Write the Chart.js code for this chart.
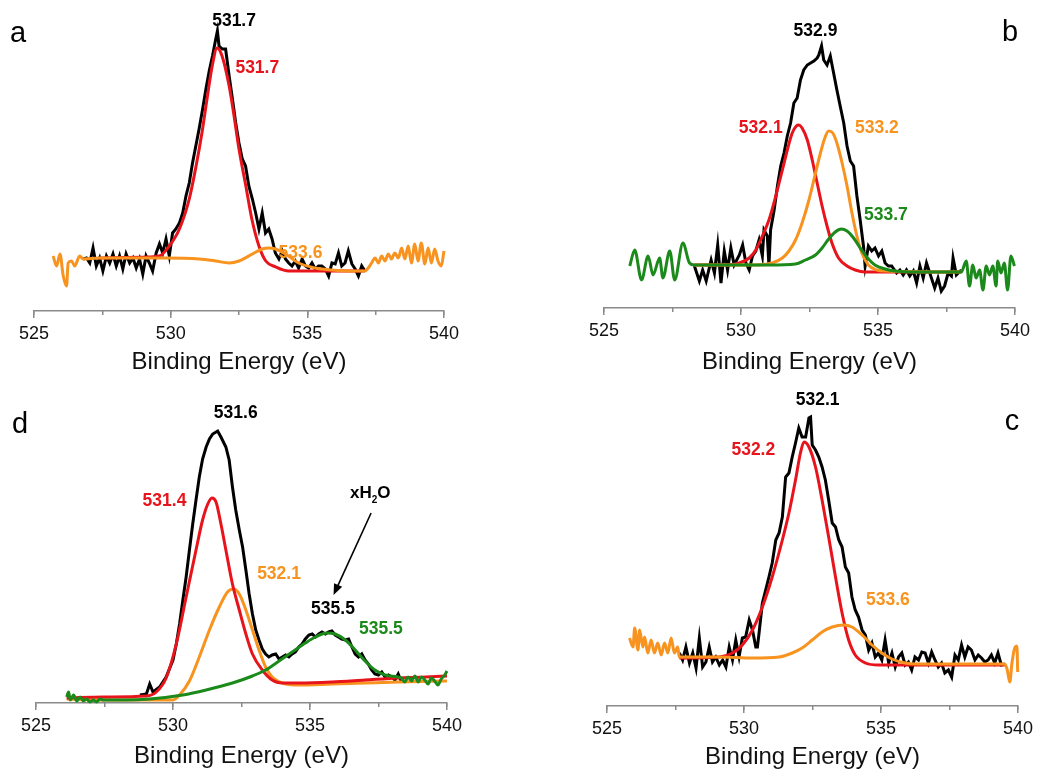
<!DOCTYPE html>
<html>
<head>
<meta charset="utf-8">
<title>O 1s XPS</title>
<script src="https://cdn.jsdelivr.net/npm/chart.js@4.4.1/dist/chart.umd.min.js"></script>
<style>
  html, body { margin: 0; padding: 0; background: #fff; width: 1038px; height: 773px; overflow: hidden; }
  canvas { position: absolute; }
</style>
</head>
<body>
<canvas id="panel-a"></canvas>
<canvas id="panel-b"></canvas>
<canvas id="panel-d"></canvas>
<canvas id="panel-c"></canvas>
<script>
// x axis: binding energy (eV), y: intensity (arb. units)
const xTicks = [525, 530, 535, 540];
const axisTitle = 'Binding Energy (eV)';

// ---- panel a ----
const aData = [[526.80,52],[526.92,53],[527.04,48],[527.16,63],[527.28,45],[527.40,53],[527.52,40],[527.65,55],[527.77,48],[527.89,57],[528.01,45],[528.13,55],[528.25,42],[528.37,57],[528.50,48],[528.62,53],[528.74,43],[528.86,52],[528.98,37],[529.10,55],[529.22,48],[529.34,40],[529.47,58],[529.59,67],[529.71,58],[529.83,72],[529.95,55],[530.07,78],[530.19,82],[530.32,88],[530.44,98],[530.56,115],[530.68,128],[530.80,148],[530.92,165],[531.04,182],[531.17,202],[531.29,222],[531.41,240],[531.53,255],[531.65,272],[531.71,280],[531.77,265],[531.89,262],[532.01,262],[532.14,235],[532.26,212],[532.38,188],[532.50,168],[532.62,152],[532.74,145],[532.86,125],[532.99,112],[533.11,98],[533.23,82],[533.35,98],[533.47,78],[533.59,82],[533.71,72],[533.83,58],[533.96,52],[534.08,60],[534.20,52],[534.32,48],[534.44,45],[534.56,50],[534.68,43],[534.81,52],[534.93,45],[535.05,43],[535.17,48],[535.29,42],[535.41,45],[535.53,45],[535.66,42],[535.78,35],[535.90,48],[536.02,47],[536.14,58],[536.26,45],[536.38,48],[536.50,60],[536.63,47],[536.75,42],[536.87,35],[536.99,45],[537.11,40]];
const aFit1 = [[527.40,53],[529.22,54],[529.59,55],[529.95,65],[530.32,82],[530.68,112],[530.93,145],[531.15,179],[531.33,212],[531.52,245],[531.70,263],[531.88,255],[532.14,225],[532.32,195],[532.50,162],[532.75,125],[532.97,92],[533.23,65],[533.48,50],[533.85,44],[534.32,40],[534.94,40],[537.10,40]];
const aFit2 = [[525.70,55],[525.83,45],[525.95,57],[526.07,35],[526.19,25],[526.25,48],[526.37,50],[526.49,45],[526.67,55],[526.80,52],[527.40,53],[528.62,53],[529.83,53],[531.04,52],[531.65,50],[532.14,48],[532.50,50],[532.99,57],[533.35,62],[533.59,63],[533.83,62],[534.20,57],[534.68,48],[535.29,43],[535.90,41],[536.50,40],[537.11,40],[537.23,43],[537.35,48],[537.48,53],[537.60,48],[537.72,55],[537.84,50],[537.96,57],[538.08,52],[538.20,58],[538.33,53],[538.45,63],[538.57,52],[538.69,65],[538.81,48],[538.93,67],[539.05,50],[539.17,68],[539.30,47],[539.42,63],[539.54,48],[539.66,62],[539.78,50],[539.90,45],[540.00,60]];
const aPeaks = ['531.7', '531.7', '533.6'];

// ---- panel b ----
const bData = [[528.30,42],[528.48,27],[528.60,38],[528.73,27],[528.91,48],[529.03,35],[529.15,63],[529.27,25],[529.39,57],[529.51,38],[529.63,60],[529.75,43],[529.94,53],[530.06,63],[530.18,45],[530.30,38],[530.42,52],[530.54,57],[530.66,68],[530.78,52],[530.84,78],[530.96,72],[531.02,42],[531.08,78],[531.21,98],[531.33,122],[531.45,142],[531.57,155],[531.69,172],[531.81,185],[531.93,205],[532.05,210],[532.17,228],[532.29,238],[532.42,243],[532.54,245],[532.66,247],[532.78,250],[532.84,253],[532.94,262],[533.02,248],[533.14,243],[533.26,252],[533.38,235],[533.50,218],[533.62,202],[533.75,185],[533.87,162],[533.99,147],[534.11,142],[534.23,112],[534.35,88],[534.47,62],[534.53,42],[534.65,62],[534.77,57],[534.89,60],[535.02,52],[535.14,57],[535.26,45],[535.38,42],[535.50,42],[535.68,35],[535.80,38],[535.92,33],[536.04,38],[536.16,32],[536.29,37],[536.41,25],[536.53,42],[536.65,30],[536.77,45],[536.89,35],[537.07,20],[537.19,30],[537.31,17],[537.43,22],[537.56,35],[537.68,32],[537.74,50],[537.86,33],[538.04,38]];
const bFit1 = [[528.30,43],[529.45,43],[529.94,45],[530.30,50],[530.54,58],[530.78,72],[531.02,88],[531.27,112],[531.51,138],[531.69,158],[531.87,175],[532.02,182],[532.11,183],[532.23,180],[532.42,168],[532.60,148],[532.78,125],[532.96,102],[533.14,82],[533.32,65],[533.56,50],[533.87,42],[534.17,38],[534.53,36],[535.26,36],[538.04,36]];
const bFit2 = [[528.30,43],[530.42,43],[531.14,45],[531.51,50],[531.75,57],[531.99,68],[532.23,85],[532.48,108],[532.72,135],[532.90,155],[533.06,170],[533.20,177],[533.35,175],[533.50,165],[533.69,145],[533.87,122],[534.05,95],[534.23,72],[534.41,55],[534.65,43],[534.96,38],[535.26,37],[538.04,36]];
const bFit3 = [[525.94,42],[526.12,58],[526.37,28],[526.61,52],[526.79,33],[527.03,50],[527.15,30],[527.40,57],[527.58,28],[527.88,65],[528.12,45],[528.30,43],[528.73,43],[529.81,43],[531.02,43],[531.99,44],[532.35,48],[532.72,53],[532.96,60],[533.20,69],[533.44,76],[533.66,79],[533.87,77],[534.11,70],[534.35,60],[534.59,51],[534.89,43],[535.26,39],[535.62,37],[536.47,36],[538.04,36],[538.22,47],[538.34,22],[538.46,43],[538.58,30],[538.71,38],[538.83,18],[538.95,42],[539.07,33],[539.19,42],[539.31,22],[539.37,47],[539.49,35],[539.61,45],[539.73,18],[539.85,52],[539.98,42]];
const bPeaks = ['532.9', '532.1', '533.2', '533.7'];

// ---- panel d ----
const dData = [[528.79,8],[529.03,9],[529.15,19],[529.27,11],[529.51,16],[529.75,26],[530.00,43],[530.12,59],[530.24,79],[530.36,103],[530.48,126],[530.60,153],[530.72,179],[530.84,203],[530.96,226],[531.08,244],[531.21,256],[531.33,264],[531.45,269],[531.63,272],[531.75,266],[531.93,256],[532.05,243],[532.17,216],[532.29,193],[532.42,173],[532.54,156],[532.66,133],[532.78,109],[532.90,89],[533.02,73],[533.14,63],[533.26,54],[533.38,49],[533.50,46],[533.62,48],[533.75,49],[533.87,44],[533.99,46],[534.11,48],[534.23,46],[534.35,49],[534.47,51],[534.59,56],[534.71,59],[534.83,64],[534.96,68],[535.08,69],[535.20,66],[535.32,69],[535.44,71],[535.56,69],[535.68,71],[535.80,72],[535.92,68],[536.04,66],[536.16,64],[536.29,63],[536.41,64],[536.53,56],[536.65,49],[536.77,46],[536.89,49],[537.01,43],[537.13,39],[537.25,33],[537.37,29],[537.50,28],[537.62,31],[537.74,26],[537.86,28],[537.98,26],[538.10,23],[538.22,29],[538.34,21]];
const dFit1 = [[526.12,5],[527.46,6],[529.03,7],[529.39,11],[529.75,25],[530.12,59],[530.48,106],[530.84,153],[531.08,183],[531.27,199],[531.42,205],[531.57,201],[531.75,179],[531.93,153],[532.17,119],[532.42,93],[532.66,69],[532.90,49],[533.26,33],[533.62,23],[533.99,20],[534.59,20],[535.80,21],[537.01,23],[538.22,25],[540.00,27]];
const dFit2 = [[526.12,4],[527.46,3],[530.00,3],[530.24,8],[530.60,22],[530.96,46],[531.33,73],[531.69,96],[531.99,111],[532.21,114],[532.42,109],[532.66,93],[532.90,73],[533.14,53],[533.38,36],[533.62,26],[533.99,20],[534.59,18],[535.80,19],[537.01,20],[538.22,21],[540.00,22]];
const dFit3 = [[526.12,6],[526.19,11],[526.25,3],[526.37,8],[526.49,2],[526.61,6],[526.73,2],[526.85,4],[526.97,1],[527.09,3],[527.21,1],[527.33,4],[527.46,3],[528.30,3],[529.15,4],[530.36,8],[531.21,13],[532.17,20],[532.90,27],[533.38,33],[533.87,42],[534.35,51],[534.83,60],[535.20,66],[535.62,70],[535.92,69],[536.29,63],[536.65,53],[537.01,42],[537.37,33],[537.74,28],[538.22,26],[538.34,25],[538.46,21],[538.58,26],[538.71,22],[538.83,27],[538.95,21],[539.07,26],[539.19,23],[539.31,19],[539.43,25],[539.55,22],[539.67,18],[539.79,24],[539.92,28],[540.00,32]];
const dPeaks = ['531.6', '531.4', '532.1', '535.5', '535.5'];

// ---- panel c ----
const cData = [[527.64,53],[527.76,46],[527.88,59],[528.01,43],[528.13,53],[528.25,38],[528.37,68],[528.49,39],[528.61,44],[528.73,59],[528.85,44],[528.97,49],[529.10,41],[529.22,46],[529.34,39],[529.46,59],[529.58,46],[529.70,66],[529.82,49],[529.94,68],[530.06,69],[530.19,86],[530.31,76],[530.43,59],[530.49,59],[530.55,73],[530.67,103],[530.79,116],[530.91,129],[531.03,143],[531.16,166],[531.28,173],[531.40,189],[531.52,229],[531.64,233],[531.76,249],[531.88,263],[532.00,278],[532.12,269],[532.25,269],[532.37,288],[532.43,289],[532.49,261],[532.61,256],[532.73,249],[532.85,239],[532.97,226],[533.09,206],[533.22,183],[533.34,179],[533.46,166],[533.58,159],[533.70,139],[533.82,133],[533.94,109],[534.06,96],[534.18,89],[534.31,76],[534.43,71],[534.55,56],[534.67,63],[534.79,49],[534.91,53],[535.03,46],[535.15,66],[535.28,43],[535.40,53],[535.52,39],[535.64,49],[535.76,53],[535.88,41],[536.00,44],[536.12,36],[536.24,49],[536.37,46],[536.49,54],[536.61,53],[536.73,43],[536.85,54],[536.97,46],[537.09,39],[537.21,43],[537.33,33],[537.46,36],[537.58,29],[537.70,51],[537.82,46],[537.94,61],[538.06,49],[538.18,59],[538.30,56],[538.43,46],[538.55,51],[538.67,48],[538.79,44],[538.91,46],[539.03,51],[539.15,43],[539.27,53],[539.39,41],[539.52,42]];
const cFit1 = [[527.64,48],[529.10,49],[529.58,53],[529.94,61],[530.31,76],[530.67,99],[531.03,129],[531.40,166],[531.64,193],[531.88,226],[532.06,253],[532.19,264],[532.37,259],[532.61,239],[532.85,206],[533.09,169],[533.34,129],[533.58,93],[533.82,66],[534.06,51],[534.43,43],[534.91,41],[536.37,41],[539.52,41]];
const cFit2 = [[525.82,68],[525.95,59],[526.01,78],[526.13,56],[526.19,76],[526.31,59],[526.37,69],[526.49,53],[526.61,66],[526.73,53],[526.85,63],[526.98,51],[527.10,63],[527.22,53],[527.34,68],[527.46,53],[527.58,59],[527.64,49],[527.88,49],[529.10,49],[530.31,48],[531.28,49],[531.76,53],[532.12,58],[532.49,66],[532.85,74],[533.22,79],[533.64,81],[533.94,79],[534.31,71],[534.67,61],[535.03,53],[535.40,47],[535.88,43],[536.37,42],[539.52,42],[539.61,36],[539.70,24],[539.78,43],[539.88,58],[539.96,60],[539.99,34]];
const cPeaks = ['532.1', '532.2', '533.6'];

const FONT = '"Liberation Sans", Arial, Helvetica, sans-serif';
const BLACK = '#000000', RED = '#e8141c', ORANGE = '#f7931e', GREEN = '#1b8a1b';
const AXIS_GREY = '#8a8a8a';

function pts(arr) { return arr.map(p => ({ x: p[0], y: p[1] })); }

function series(arr, color, smooth) {
  return {
    data: pts(arr), borderColor: color, borderWidth: 3, pointRadius: 0,
    fill: false, clip: 8, tension: smooth ? 0.4 : 0,
    cubicInterpolationMode: smooth ? 'monotone' : 'default'
  };
}

function drawWater(ctx, xs, ys, n) {
  const cx = xs.getPixelForValue(n.x), cy = ys.getPixelForValue(n.y);
  const big = 'bold 17px ' + FONT, small = 'bold 10px ' + FONT;
  ctx.font = big;
  const w1 = ctx.measureText('xH').width, w3 = ctx.measureText('O').width;
  ctx.font = small;
  const w2 = ctx.measureText('2').width;
  let x = cx - (w1 + w2 + w3) / 2;
  ctx.textAlign = 'left';
  ctx.fillStyle = BLACK;
  ctx.font = big; ctx.fillText('xH', x, cy); x += w1;
  ctx.font = small; ctx.fillText('2', x, cy + 7); x += w2;
  ctx.font = big; ctx.fillText('O', x, cy);

  const x1 = xs.getPixelForValue(n.tail[0]), y1 = ys.getPixelForValue(n.tail[1]);
  const x2 = xs.getPixelForValue(n.head[0]), y2 = ys.getPixelForValue(n.head[1]);
  const a = Math.atan2(y2 - y1, x2 - x1), c = Math.cos(a), s = Math.sin(a);
  ctx.strokeStyle = BLACK; ctx.lineWidth = 1.6;
  ctx.beginPath(); ctx.moveTo(x1, y1); ctx.lineTo(x2 - 6 * c, y2 - 6 * s); ctx.stroke();
  ctx.beginPath();
  ctx.moveTo(x2, y2);
  ctx.lineTo(x2 - 11 * c + 4.5 * s, y2 - 11 * s - 4.5 * c);
  ctx.lineTo(x2 - 11 * c - 4.5 * s, y2 - 11 * s + 4.5 * c);
  ctx.closePath(); ctx.fill();
}

const peakLabels = {
  id: 'peakLabels',
  afterDatasetsDraw(chart, args, opts) {
    const ctx = chart.ctx, xs = chart.scales.x, ys = chart.scales.y;
    ctx.save();
    ctx.textAlign = 'center';
    ctx.textBaseline = 'middle';
    ctx.font = 'bold 17.5px ' + FONT;
    (opts.labels || []).forEach(l => {
      ctx.fillStyle = l.color;
      ctx.fillText(l.text, xs.getPixelForValue(l.x), ys.getPixelForValue(l.y));
    });
    ctx.font = '29px ' + FONT;
    ctx.fillStyle = BLACK;
    ctx.fillText(opts.letter, opts.letterPos[0], opts.letterPos[1]);
    if (opts.water) { ctx.textAlign = 'left'; drawWater(ctx, xs, ys, opts.water); }
    ctx.restore();
  }
};

function makePanel(id, box, datasets, labelOpts) {
  const cv = document.getElementById(id);
  cv.style.left = box.left + 'px';
  cv.style.top = box.top + 'px';
  cv.width = box.width;
  cv.height = box.height;
  return new Chart(cv, {
    type: 'line',
    data: { datasets },
    options: {
      responsive: false, animation: false, devicePixelRatio: 1,
      layout: { padding: { left: 34, right: 18, top: 0, bottom: 0 } },
      plugins: { legend: { display: false }, tooltip: { enabled: false }, peakLabels: labelOpts },
      scales: {
        x: {
          type: 'linear', min: xTicks[0], max: xTicks[xTicks.length - 1],
          afterFit: s => { s.height = box.axisH; },
          afterBuildTicks: s => { s.ticks = xTicks.map(v => ({ value: v })); },
          border: { display: true, color: AXIS_GREY, width: 1.5 },
          grid: { drawOnChartArea: false, drawTicks: true, tickLength: 7, color: AXIS_GREY, lineWidth: 1.5 },
          ticks: { autoSkip: false, maxRotation: 0, padding: 5, color: '#111', font: { family: FONT, size: 18 } },
          title: { display: true, text: axisTitle, color: '#111', font: { family: FONT, size: 24 }, padding: { top: 0, bottom: 0 } }
        },
        x2: {
          type: 'linear', axis: 'x', min: xTicks[0], max: xTicks[xTicks.length - 1], position: { y: 0 },
          border: { display: false },
          grid: { drawOnChartArea: false, drawTicks: true, tickLength: 4, color: AXIS_GREY, lineWidth: 1.5 },
          ticks: { display: false, stepSize: 2.5 }
        },
        y: { display: false, min: 0, max: box.ymax }
      }
    },
    plugins: [peakLabels]
  });
}

// top-most series first (Chart.js draws dataset 0 last)
makePanel('panel-a', { left: 0, top: 0, width: 464, height: 377, axisH: 66, ymax: 311 },
  [series(aFit2, ORANGE, true), series(aFit1, RED, true), series(aData, BLACK, false)],
  { letter: 'a', letterPos: [18, 34], labels: [
    { text: aPeaks[0], x: 532.32, y: 290, color: BLACK },
    { text: aPeaks[1], x: 533.17, y: 243, color: RED },
    { text: aPeaks[2], x: 534.75, y: 58, color: ORANGE } ] });

makePanel('panel-b', { left: 570, top: 0, width: 465, height: 377, axisH: 69, ymax: 308 },
  [series(bFit3, GREEN, true), series(bFit2, ORANGE, true), series(bFit1, RED, true), series(bData, BLACK, false)],
  { letter: 'b', letterPos: [440, 33], labels: [
    { text: bPeaks[0], x: 532.72, y: 277, color: BLACK },
    { text: bPeaks[1], x: 530.72, y: 180, color: RED },
    { text: bPeaks[2], x: 534.96, y: 180, color: ORANGE },
    { text: bPeaks[3], x: 535.29, y: 93, color: GREEN } ] });

makePanel('panel-d', { left: 2, top: 390, width: 465, height: 381, axisH: 68, ymax: 313 },
  [series(dFit3, GREEN, true), series(dFit1, RED, true), series(dFit2, ORANGE, true), series(dData, BLACK, false)],
  { letter: 'd', letterPos: [18, 35], labels: [
    { text: dPeaks[0], x: 532.29, y: 290, color: BLACK },
    { text: dPeaks[1], x: 529.69, y: 202, color: RED },
    { text: dPeaks[2], x: 533.87, y: 129, color: ORANGE },
    { text: dPeaks[3], x: 535.84, y: 94, color: BLACK },
    { text: dPeaks[4], x: 537.59, y: 74, color: GREEN } ],
    water: { x: 537.20, y: 210, tail: [537.23, 190], head: [535.86, 108] } });

makePanel('panel-c', { left: 573, top: 390, width: 465, height: 382, axisH: 66, ymax: 316 },
  [series(cFit2, ORANGE, true), series(cFit1, RED, true), series(cData, BLACK, false)],
  { letter: 'c', letterPos: [439, 32], labels: [
    { text: cPeaks[0], x: 532.69, y: 306, color: BLACK },
    { text: cPeaks[1], x: 530.34, y: 256, color: RED },
    { text: cPeaks[2], x: 535.25, y: 106, color: ORANGE } ] });
</script>
</body>
</html>
